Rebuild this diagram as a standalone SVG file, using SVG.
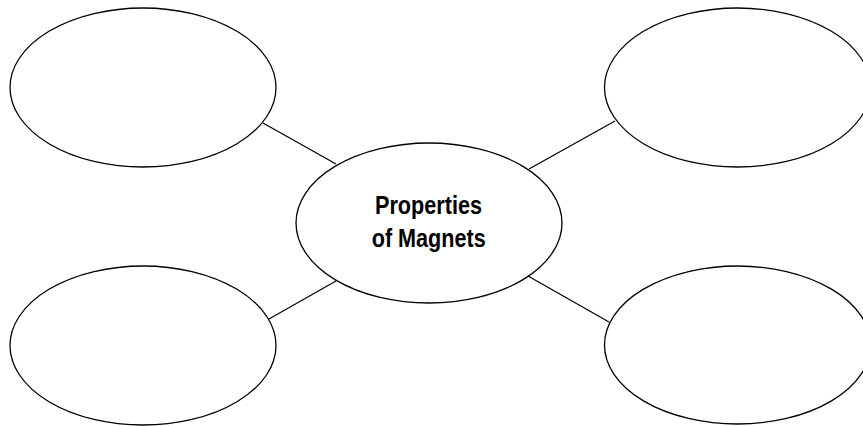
<svg xmlns="http://www.w3.org/2000/svg" width="863" height="426" viewBox="0 0 863 426">
<style>
.node ellipse{fill:#fff;stroke:#000;stroke-width:1.3}
.conn line{stroke:#000;stroke-width:1.2}
.lbl{font-family:"Liberation Sans",Arial,sans-serif;font-weight:bold;font-size:26px;fill:#000;text-anchor:middle}
</style>
<rect width="863" height="426" fill="#fff"/>
<g id="connectors" class="conn">
<line x1="263" y1="123" x2="336" y2="164"/>
<line x1="529" y1="169" x2="615" y2="121"/>
<line x1="336" y1="281" x2="269" y2="319"/>
<line x1="528" y1="276" x2="609" y2="322"/>
</g>
<g id="node-top-left" class="node"><ellipse cx="143" cy="87.5" rx="133" ry="79.5"/></g>
<g id="node-top-right" class="node"><ellipse cx="737.5" cy="87.5" rx="133" ry="79.5"/></g>
<g id="node-bottom-left" class="node"><ellipse cx="143" cy="345.5" rx="133" ry="79.5"/></g>
<g id="node-bottom-right" class="node"><ellipse cx="737.5" cy="345" rx="133" ry="79"/></g>
<g id="node-center" class="node">
<ellipse cx="429" cy="223" rx="133" ry="80"/>
<text class="lbl" x="428.5" y="214" textLength="107" lengthAdjust="spacingAndGlyphs">Properties</text>
<text class="lbl" x="428.7" y="247" textLength="114" lengthAdjust="spacingAndGlyphs">of Magnets</text>
</g>
</svg>
